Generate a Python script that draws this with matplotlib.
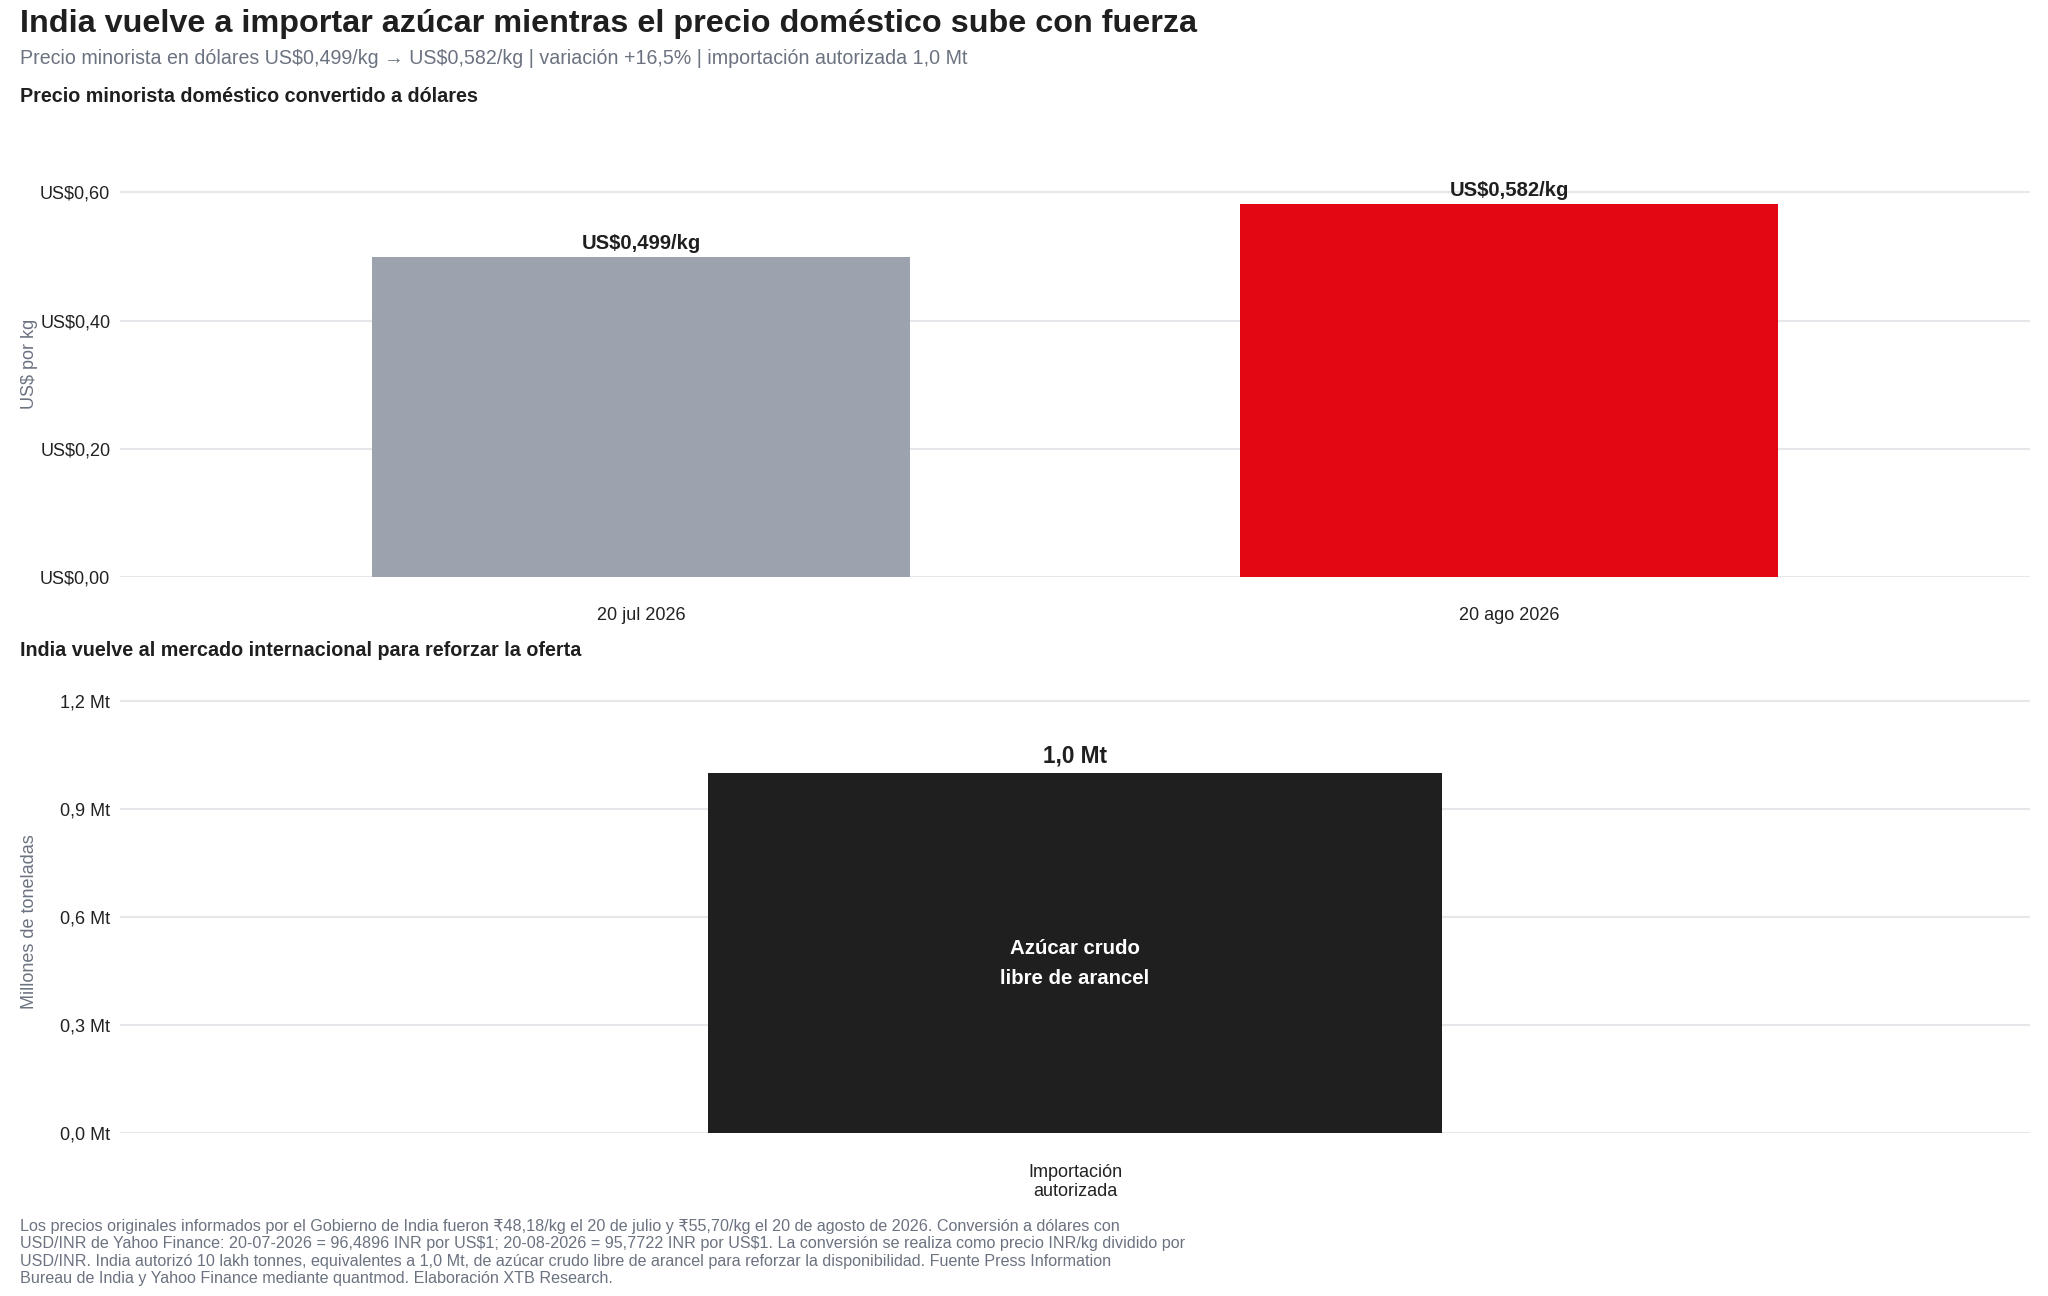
import matplotlib
matplotlib.use("Agg")
import matplotlib.pyplot as plt
from matplotlib.ticker import FuncFormatter

plt.rcParams['font.family'] = ['Liberation Sans', 'DejaVu Sans']
plt.rcParams['text.parse_math'] = False

# datos
fechas = ['20 jul 2026', '20 ago 2026']
precio_usd = [0.499, 0.582]
colores_precio = ['#9ca3af', '#e30613']

categorias_imp = ['Importación\nautorizada']
importacion_mt = [1.0]
etiqueta_imp = 'Azúcar crudo\nlibre de arancel'

titulo = 'India vuelve a importar azúcar mientras el precio doméstico sube con fuerza'
subtitulo = ('Precio minorista en dólares US$0,499/kg → US$0,582/kg | variación +16,5% | '
             'importación autorizada 1,0 Mt')
nota = ('Los precios originales informados por el Gobierno de India fueron ₹48,18/kg el 20 de julio y ₹55,70/kg el 20 de agosto de 2026. Conversión a dólares con\n'
        'USD/INR de Yahoo Finance: 20-07-2026 = 96,4896 INR por US$1; 20-08-2026 = 95,7722 INR por US$1. La conversión se realiza como precio INR/kg dividido por\n'
        'USD/INR. India autorizó 10 lakh tonnes, equivalentes a 1,0 Mt, de azúcar crudo libre de arancel para reforzar la disponibilidad. Fuente Press Information\n'
        'Bureau de India y Yahoo Finance mediante quantmod. Elaboración XTB Research.')

OSCURO = '#1f1f1f'
GRIS = '#6b7280'
GRID = '#e5e7eb'
W, H = 2048, 1296


def coma(v, dec):
    return f"{v:.{dec}f}".replace('.', ',')


def estilo(ax):
    for s in ax.spines.values():
        s.set_visible(False)
    ax.grid(axis='y', color=GRID, linewidth=1.5)
    ax.set_axisbelow(True)
    ax.tick_params(axis='both', length=0, labelsize=13, labelcolor='#222222')
    ax.tick_params(axis='x', pad=22)
    ax.tick_params(axis='y', pad=7)


fig = plt.figure(figsize=(W / 100, H / 100), dpi=100)

fig.text(20 / W, 1 - 24 / H, titulo, fontsize=23.3, fontweight='bold', color=OSCURO, va='center')
fig.text(20 / W, 1 - 58 / H, subtitulo, fontsize=14.15, color=GRIS, va='center')
fig.text(20 / W, 1 - 96 / H, 'Precio minorista doméstico convertido a dólares',
         fontsize=14.2, fontweight='bold', color=OSCURO, va='center')
fig.text(20 / W, 1 - 651 / H, 'India vuelve al mercado internacional para reforzar la oferta',
         fontsize=14.2, fontweight='bold', color=OSCURO, va='center')

# panel superior: precios
ax1 = fig.add_axes([120 / W, 1 - 576.7 / H, 1910 / W, (576.7 - 154) / H])
x1 = range(len(fechas))
ax1.bar(x1, precio_usd, width=0.62, color=colores_precio)
for xi, v in zip(x1, precio_usd):
    ax1.annotate(f"US${coma(v, 3)}/kg", (xi, v), xytext=(0, 3), textcoords='offset points',
                 ha='center', va='bottom', fontsize=14.6, fontweight='bold', color=OSCURO)
ax1.set_xlim(-0.6, 1.6)
ax1.set_ylim(0, 0.66)
ax1.set_yticks([0, 0.2, 0.4, 0.6])
ax1.yaxis.set_major_formatter(FuncFormatter(lambda v, p: f"US${coma(v, 2)}"))
ax1.set_xticks(list(x1))
ax1.set_xticklabels(fechas)
estilo(ax1)
fig.text(30 / W, 1 - 364 / H, 'US$ por kg', rotation=90, ha='center', va='center',
         fontsize=13, color=GRIS)

# panel inferior: importacion
ax2 = fig.add_axes([120 / W, 1 - 1133 / H, 1910 / W, 453.6 / H])
x2 = range(len(categorias_imp))
ax2.bar(x2, importacion_mt, width=0.5, color=OSCURO)
for xi, v in zip(x2, importacion_mt):
    ax2.annotate(f"{coma(v, 1)} Mt", (xi, v), xytext=(0, 4), textcoords='offset points',
                 ha='center', va='bottom', fontsize=16.3, fontweight='bold', color=OSCURO)
    ax2.text(xi, v * 0.47, etiqueta_imp, ha='center', va='center', fontsize=14.7,
             fontweight='bold', color='white', linespacing=1.75)
ax2.set_xlim(-0.65, 0.65)
ax2.set_ylim(0, 1.26)
ax2.set_yticks([0, 0.3, 0.6, 0.9, 1.2])
ax2.yaxis.set_major_formatter(FuncFormatter(lambda v, p: f"{coma(v, 1)} Mt"))
ax2.set_xticks(list(x2))
ax2.set_xticklabels(categorias_imp, linespacing=1.2)
estilo(ax2)
fig.text(30 / W, 1 - 922 / H, 'Millones de toneladas', rotation=90, ha='center', va='center',
         fontsize=13, color=GRIS)

fig.text(20 / W, 1 - 1219 / H, nota, fontsize=11.65, color=GRIS, va='top', linespacing=1.2)

fig.savefig('out.png', dpi=100, facecolor='white')
